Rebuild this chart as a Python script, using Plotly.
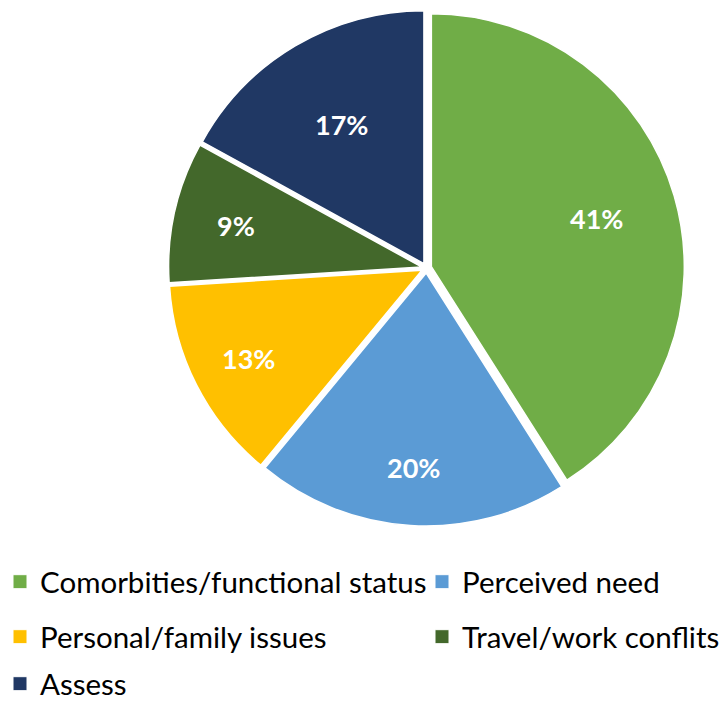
import math
import plotly.graph_objects as go

categories = ["Comorbities/functional status", "Perceived need", "Personal/family issues",
              "Travel/work conflits", "Assess"]
values = [41, 20, 13, 9, 17]
colors = ["#70AD47", "#5B9BD5", "#FFC000", "#43682B", "#203864"]

W, H = 724, 703
# pie domain in pixels (left, right, top, bottom)
DL, DR, DT, DB = 168.5, 684.5, 10, 526
PULL = 0.02
LABEL_R = [0.70, 0.79, 0.79, 0.77, 0.66]

fig = go.Figure()
fig.add_trace(go.Pie(
    labels=categories, values=values, sort=False, direction="clockwise", rotation=0,
    marker=dict(colors=colors, line=dict(color="white", width=1.5)),
    pull=[PULL] * len(values),
    textinfo="none",
    domain=dict(x=[DL / W, DR / W], y=[1 - DB / H, 1 - DT / H]),
    showlegend=False, hoverinfo="label+percent",
))

# percentage labels placed at the middle angle of each slice
cx, cy = (DL + DR) / 2, (DT + DB) / 2
r = min(DR - DL, DB - DT) / 2 / (1 + PULL)
total = sum(values)
cum = 0
for v, lr in zip(values, LABEL_R):
    mid = (cum + v / 2) / total * 2 * math.pi
    cum += v
    dist = r * lr
    px = cx + dist * math.sin(mid)
    py = cy - dist * math.cos(mid)
    fig.add_annotation(x=px / W, y=1 - py / H, xref="paper", yref="paper",
                       xanchor="center", yanchor="middle",
                       text=f"<b>{round(v / total * 100)}%</b>", showarrow=False,
                       font=dict(family="Lato", size=27, color="white"))

# legend: one legend per entry, laid out in two columns
leg_x = [0, 422, 0, 422, 0]
leg_y = [582, 582, 637, 637, 684]
layout_legends = {}
for i, (cat, col) in enumerate(zip(categories, colors)):
    key = "legend" if i == 0 else f"legend{i + 1}"
    fig.add_trace(go.Scatter(
        x=[None], y=[None], mode="markers", name=cat, legend=key,
        marker=dict(symbol="square", size=14, color=col, line=dict(color="white", width=1)),
        showlegend=True,
    ))
    layout_legends[key] = dict(orientation="h", xanchor="left", yanchor="middle",
                               x=leg_x[i] / W, y=1 - leg_y[i] / H,
                               font=dict(family="Lato", size=29.5, color="black"),
                               bgcolor="rgba(0,0,0,0)", borderwidth=0,
                               itemclick=False, itemdoubleclick=False)

fig.update_layout(
    width=W, height=H, margin=dict(l=0, r=0, t=0, b=0, autoexpand=False),
    paper_bgcolor="white", plot_bgcolor="white",
    xaxis=dict(visible=False), yaxis=dict(visible=False),
    **layout_legends,
)
fig.write_html("out.html")
